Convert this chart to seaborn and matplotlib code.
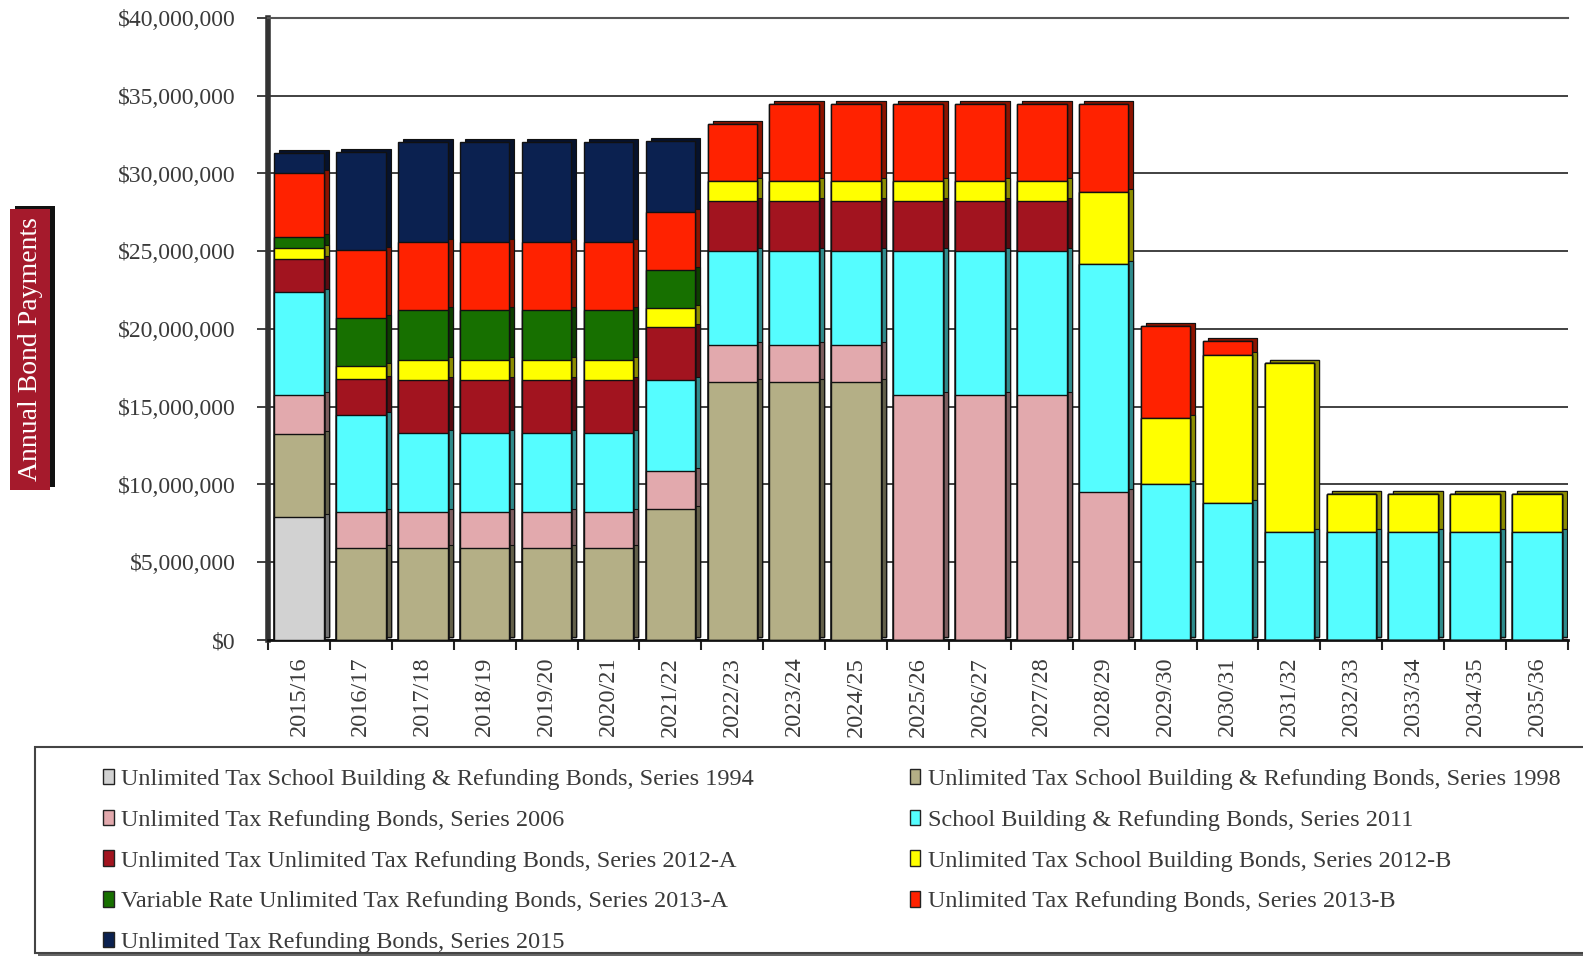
import numpy as np
import pandas as pd
import matplotlib
matplotlib.use("Agg")
import matplotlib.pyplot as plt
import matplotlib.colors as mcolors
from matplotlib.transforms import ScaledTranslation
from matplotlib.patches import Rectangle, Patch
import seaborn as sns

# ---------------- data (values in $ millions) ----------------
years = ["2015/16", "2016/17", "2017/18", "2018/19", "2019/20", "2020/21", "2021/22",
         "2022/23", "2023/24", "2024/25", "2025/26", "2026/27", "2027/28", "2028/29",
         "2029/30", "2030/31", "2031/32", "2032/33", "2033/34", "2034/35", "2035/36"]

s1994  = [7.9, 0, 0, 0, 0, 0, 0, 0, 0, 0, 0, 0, 0, 0, 0, 0, 0, 0, 0, 0, 0]
s1998  = [5.35, 5.9, 5.9, 5.9, 5.9, 5.9, 8.4, 16.6, 16.6, 16.6, 0, 0, 0, 0, 0, 0, 0, 0, 0, 0, 0]
s2006  = [2.5, 2.3, 2.3, 2.3, 2.3, 2.3, 2.5, 2.4, 2.4, 2.4, 15.75, 15.75, 15.75, 9.5, 0, 0, 0, 0, 0, 0, 0]
s2011  = [6.65, 6.3, 5.1, 5.1, 5.1, 5.1, 5.8, 6.0, 6.0, 6.0, 9.25, 9.25, 9.25, 14.7, 10.0, 8.8, 6.95, 6.95, 6.95, 6.95, 6.95]
s2012a = [2.1, 2.3, 3.4, 3.4, 3.4, 3.4, 3.4, 3.2, 3.2, 3.2, 3.2, 3.2, 3.2, 0, 0, 0, 0, 0, 0, 0, 0]
s2012b = [0.7, 0.8, 1.3, 1.3, 1.3, 1.3, 1.25, 1.3, 1.3, 1.3, 1.3, 1.3, 1.3, 4.6, 4.3, 9.5, 10.85, 2.45, 2.45, 2.45, 2.45]
s2013a = [0.7, 3.1, 3.2, 3.2, 3.2, 3.2, 2.45, 0, 0, 0, 0, 0, 0, 0, 0, 0, 0, 0, 0, 0, 0]
s2013b = [4.1, 4.4, 4.4, 4.4, 4.4, 4.4, 3.7, 3.7, 5.0, 5.0, 5.0, 5.0, 5.0, 5.7, 5.9, 0.9, 0, 0, 0, 0, 0]
s2015  = [1.3, 6.3, 6.4, 6.4, 6.4, 6.4, 4.6, 0, 0, 0, 0, 0, 0, 0, 0, 0, 0, 0, 0, 0, 0]

series_names = [
    "Unlimited Tax School Building & Refunding Bonds, Series 1994",
    "Unlimited Tax School Building & Refunding Bonds, Series 1998",
    "Unlimited Tax Refunding Bonds, Series 2006",
    "School Building & Refunding Bonds, Series 2011",
    "Unlimited Tax Unlimited Tax Refunding Bonds, Series 2012-A",
    "Unlimited Tax School Building Bonds, Series 2012-B",
    "Variable Rate Unlimited Tax Refunding Bonds, Series 2013-A",
    "Unlimited Tax Refunding Bonds, Series 2013-B",
    "Unlimited Tax Refunding Bonds, Series 2015",
]
series_values = [s1994, s1998, s2006, s2011, s2012a, s2012b, s2013a, s2013b, s2015]
series_colors = ["#D2D2D2", "#B4AF86", "#E2A9AD", "#55FDFF", "#A2141F",
                 "#FFFF00", "#177000", "#FF2200", "#0B2150"]

# ---------------- figure ----------------
sns.set_theme(style="white")
plt.rcParams["font.family"] = ["Liberation Serif", "DejaVu Serif"]

W, H = 1583, 963
fig = plt.figure(figsize=(W / 100, H / 100), dpi=100)
ax = fig.add_axes([268 / W, 1 - 640 / H, (1568 - 268) / W, (640 - 18) / H])

cum = np.zeros(len(years))
cums = []
for vals in series_values:
    cum = cum + np.array(vals)
    cums.append(cum.copy())

def darker(c, f=0.55):
    r, g, b = mcolors.to_rgb(c)
    return (r * f, g * f, b * f)

offset = ScaledTranslation(5 / 100, 3 / 100, fig.dpi_scale_trans)

# shadow (3D depth) layers first
for k in range(len(series_values) - 1, -1, -1):
    before = len(ax.patches)
    sns.barplot(x=years, y=cums[k], color=darker(series_colors[k]), width=0.8,
                edgecolor="#111111", linewidth=0.8, saturation=1, ax=ax, zorder=2)
    for p in ax.patches[before:]:
        p.set_transform(ax.transData + offset)

# front faces
for k in range(len(series_values) - 1, -1, -1):
    sns.barplot(x=years, y=cums[k], color=series_colors[k], width=0.8,
                edgecolor="#111111", linewidth=1.0, saturation=1, ax=ax, zorder=3)

ax.set_xlim(-0.5, len(years) - 0.5)
ax.set_ylim(0, 40)
yt = np.arange(0, 41, 5)
ax.set_yticks(yt)
ax.set_yticklabels(["$0" if v == 0 else "${:,}".format(int(v * 1_000_000)) for v in yt],
                   fontsize=17, color="#3a3a3a")
ax.tick_params(axis="y", which="major", length=8, width=1.2, color="#222222",
               direction="out", pad=15, left=True)
ax.set_xticks(range(len(years)))
ax.set_xticklabels(years, rotation=90, fontsize=17.5, color="#3a3a3a")
ax.set_xticks(np.arange(-0.5, len(years), 1), minor=True)
ax.tick_params(axis="x", which="major", length=0, pad=12)
ax.tick_params(axis="x", which="minor", length=7, width=1.5, color="#222222",
               direction="out", bottom=True)
ax.set_xlabel("")
ax.set_ylabel("")

ax.yaxis.grid(True, color="#333333", linewidth=1.3, zorder=0)
ax.xaxis.grid(False)
ax.set_axisbelow(True)
ax.spines["left"].set_linewidth(4)
ax.spines["left"].set_color("#333333")
ax.spines["bottom"].set_linewidth(2)
ax.spines["bottom"].set_color("#111111")
ax.spines["top"].set_linewidth(1.5)
ax.spines["top"].set_color("#555555")
ax.spines["right"].set_visible(False)

# y-axis title box
fig.patches.append(Rectangle((15 / W, 1 - 487 / H), 40 / W, 281 / H,
                             transform=fig.transFigure, facecolor="#111111",
                             edgecolor="none", zorder=1))
fig.patches.append(Rectangle((10 / W, 1 - 490 / H), 40 / W, 281 / H,
                             transform=fig.transFigure, facecolor="#A51A2C",
                             edgecolor="none", zorder=2))
fig.text(31 / W, 1 - 349 / H, "Annual Bond Payments", rotation=90, ha="center",
         va="center", color="white", fontsize=20, zorder=3)

# legend box
fig.patches.append(Rectangle((38 / W, 1 - 956 / H), 1600 / W, 206 / H,
                             transform=fig.transFigure, facecolor="#666666",
                             edgecolor="none", zorder=1))
fig.patches.append(Rectangle((35 / W, 1 - 953 / H), 1600 / W, 206 / H,
                             transform=fig.transFigure, facecolor="white",
                             edgecolor="#444444", linewidth=1.5, zorder=2))

order = [0, 2, 4, 6, 8, 1, 3, 5, 7]
handles = [Patch(facecolor=series_colors[i], edgecolor="#222222", linewidth=1.0) for i in order]
labels = [series_names[i] for i in order]
leg = fig.legend(handles, labels, ncol=2, loc="upper left",
                 bbox_to_anchor=(103 / W, 1 - 769 / H), frameon=False,
                 fontsize=17.5, handlelength=0.45, handleheight=0.6,
                 handletextpad=0.3, labelspacing=0.80, columnspacing=6.4,
                 borderaxespad=0, borderpad=0)
for t in leg.get_texts():
    t.set_color("#3a3a3a")
leg.set_zorder(5)

fig.savefig("out.png", dpi=100)
